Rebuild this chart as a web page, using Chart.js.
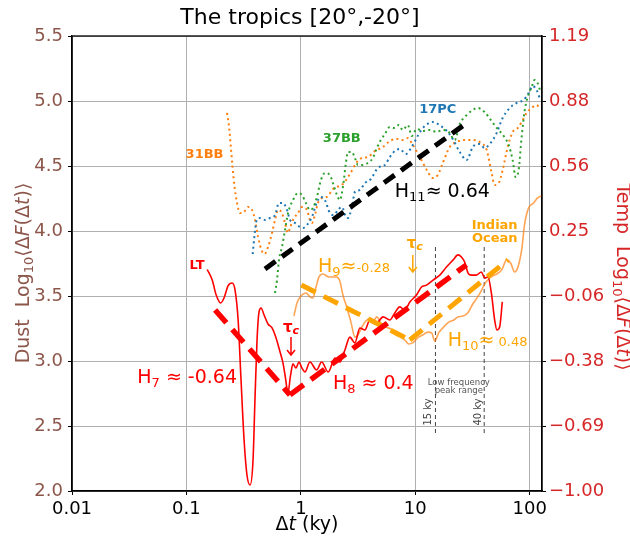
<!DOCTYPE html>
<html>
<head>
<meta charset="utf-8">
<script src="https://cdn.jsdelivr.net/npm/chart.js@4.4.1/dist/chart.umd.min.js"></script>
<style>
    html, body { margin: 0; padding: 0; background: #fff; }
    #wrap { width: 630px; height: 542px; }
</style>
</head>
<body>
<div id="wrap"><canvas id="tropicsChart" width="630" height="542"></canvas></div>
<script>
const FONT = 'DejaVu Sans';

// axis ticks
const xTickValues = [0.01, 0.1, 1, 10, 100];
const xTickLabels = ['0.01', '0.1', '1', '10', '100'];
const dustTicks = [2.0, 2.5, 3.0, 3.5, 4.0, 4.5, 5.0, 5.5];
const tempTicks = [-1.0, -0.6875, -0.375, -0.0625, 0.25, 0.5625, 0.875, 1.1875];

// LT temperature (right axis)
const ltDt = [0.152, 0.168, 0.182, 0.199, 0.213, 0.231, 0.251, 0.266, 0.283, 0.300, 0.319, 0.338, 0.360, 0.382, 0.397, 0.414, 0.431, 0.449, 0.477, 0.516, 0.560, 0.607, 0.658, 0.698, 0.734, 0.771, 0.811, 0.853, 0.906, 0.962, 1.022, 1.086, 1.20, 1.374, 1.519, 1.735, 1.985, 2.19, 2.427, 2.68, 2.965, 3.28, 3.625, 4.01, 4.58, 5.23, 5.99, 6.62, 7.32, 8.10, 8.96, 10.24, 11.32, 12.52, 14.30, 16.36, 18.72, 21.4, 23.6, 25.3, 27.0, 28.9, 30.9, 34.2, 37.8, 40.4, 43.2, 46.2, 49.4, 51.7, 54.6, 57.6];
const ltTemp = [0.065, 0.014, -0.058, -0.096, -0.072, -0.014, 0.0, -0.034, -0.178, -0.466, -0.755, -0.923, -0.971, -0.851, -0.563, -0.274, -0.139, -0.12, -0.154, -0.197, -0.216, -0.264, -0.332, -0.385, -0.457, -0.529, -0.447, -0.389, -0.409, -0.38, -0.409, -0.428, -0.38, -0.418, -0.38, -0.428, -0.361, -0.38, -0.322, -0.26, -0.288, -0.216, -0.226, -0.178, -0.192, -0.163, -0.178, -0.144, -0.115, -0.13, -0.091, -0.058, -0.019, -0.01, 0.014, 0.038, 0.077, 0.111, 0.135, 0.125, 0.101, 0.048, 0.038, 0.038, 0.053, 0.024, 0.029, -0.048, -0.178, -0.226, -0.212, -0.091];

// Indian Ocean temperature (right axis)
const indianDt = [0.87, 0.925, 1.0, 1.11, 1.20, 1.275, 1.35, 1.44, 1.56, 1.76, 2.03, 2.19, 2.33, 2.53, 2.74, 2.97, 3.15, 3.41, 3.70, 4.01, 4.34, 4.61, 5.00, 5.53, 6.11, 6.76, 7.47, 8.10, 8.78, 9.51, 10.5, 11.6, 12.9, 13.9, 14.8, 16.0, 17.7, 19.6, 21.7, 23.5, 26.0, 28.7, 31.8, 35.1, 38.0, 40.4, 43.8, 47.5, 51.4, 56.9, 62.9, 68.1, 73.8, 78.4, 85.0, 90.3, 97.8, 108.2, 117.2, 127.0];
const indianTemp = [-0.159, -0.096, -0.063, -0.048, -0.067, -0.072, -0.024, 0.029, 0.043, 0.029, 0.029, 0.010, -0.058, -0.12, -0.188, -0.26, -0.25, -0.212, -0.183, -0.168, -0.178, -0.163, -0.192, -0.212, -0.221, -0.25, -0.26, -0.274, -0.293, -0.288, -0.264, -0.25, -0.236, -0.24, -0.279, -0.24, -0.212, -0.188, -0.178, -0.163, -0.159, -0.144, -0.101, -0.067, -0.034, -0.005, 0.019, 0.034, 0.043, 0.063, 0.111, 0.096, 0.053, 0.072, 0.159, 0.284, 0.361, 0.385, 0.409, 0.418];

// dust records (left axis)
const bb31Dt = [0.2265, 0.2359, 0.2455, 0.2530, 0.2634, 0.2770, 0.2941, 0.3187, 0.3454, 0.3743, 0.3977, 0.4223, 0.4530, 0.4813, 0.5163, 0.5596, 0.5943, 0.6313, 0.6840, 0.7266, 0.7718, 0.8035, 0.8533, 0.9434, 1.022, 1.130, 1.200, 1.250, 1.327, 1.410, 1.528, 1.690, 1.906, 2.330, 2.682, 3.087, 3.414, 3.851, 4.433, 5.205, 5.991, 6.897, 7.781, 8.602, 9.51, 10.95, 12.60, 14.21, 15.72, 17.38, 20.01, 23.02, 27.04, 31.76, 36.54, 42.06, 46.51, 49.39, 53.53, 58.01, 64.15, 70.93, 78.45, 84.98, 93.96, 103.9, 114.9, 122.0];
const bb31Dust = [4.908, 4.80, 4.623, 4.492, 4.338, 4.215, 4.138, 4.146, 4.185, 4.162, 4.085, 3.954, 3.854, 3.823, 3.877, 3.985, 4.085, 4.162, 4.138, 4.062, 3.985, 4.023, 4.085, 4.138, 4.185, 4.162, 4.085, 4.062, 4.123, 4.215, 4.254, 4.262, 4.323, 4.362, 4.438, 4.531, 4.562, 4.569, 4.615, 4.646, 4.692, 4.708, 4.70, 4.715, 4.662, 4.569, 4.469, 4.408, 4.431, 4.523, 4.646, 4.685, 4.70, 4.70, 4.685, 4.623, 4.446, 4.354, 4.369, 4.469, 4.646, 4.762, 4.792, 4.838, 4.908, 4.946, 4.969, 4.946];

const pc17Dt = [0.3796, 0.3921, 0.4114, 0.4396, 0.4861, 0.5376, 0.5943, 0.6439, 0.6979, 0.7565, 0.8035, 0.8882, 0.9820, 1.043, 1.130, 1.250, 1.382, 1.497, 1.623, 1.794, 1.944, 2.107, 2.284, 2.475, 2.576, 2.792, 2.966, 3.280, 3.625, 4.090, 4.708, 5.420, 5.991, 6.624, 7.324, 8.262, 9.510, 10.73, 11.87, 14.21, 16.69, 19.21, 21.24, 24.45, 28.14, 31.76, 36.54, 40.42, 44.68, 50.41, 58.01, 66.78, 76.87, 88.47, 97.81, 106.0, 114.9, 122.0];
const pc17Dust = [3.823, 3.954, 4.085, 4.10, 4.085, 4.10, 4.123, 4.215, 4.215, 4.162, 4.085, 4.062, 4.031, 4.023, 4.046, 4.108, 4.223, 4.262, 4.238, 4.138, 4.123, 4.162, 4.185, 4.108, 4.10, 4.185, 4.30, 4.315, 4.369, 4.40, 4.485, 4.508, 4.569, 4.615, 4.631, 4.592, 4.662, 4.746, 4.80, 4.838, 4.808, 4.762, 4.708, 4.608, 4.546, 4.646, 4.669, 4.638, 4.669, 4.738, 4.869, 4.946, 4.985, 5.008, 5.062, 5.115, 5.085, 5.023];

const bb37Dt = [0.5943, 0.6186, 0.6439, 0.6840, 0.7266, 0.7718, 0.8533, 0.9434, 1.022, 1.108, 1.200, 1.275, 1.382, 1.497, 1.623, 1.794, 1.906, 2.065, 2.194, 2.330, 2.475, 2.576, 2.792, 2.966, 3.149, 3.483, 3.851, 4.257, 4.613, 5.000, 5.420, 5.991, 6.624, 7.178, 7.781, 8.602, 9.322, 10.31, 11.63, 13.38, 15.40, 17.38, 19.60, 22.12, 24.45, 28.14, 31.76, 35.12, 40.42, 45.59, 52.48, 59.21, 65.44, 70.93, 75.34, 80.01, 84.98, 90.27, 95.88, 103.9, 110.4, 117.2, 124.5];
const bb37Dust = [3.523, 3.623, 3.777, 3.877, 4.008, 4.138, 4.238, 4.292, 4.277, 4.215, 4.162, 4.177, 4.262, 4.392, 4.446, 4.431, 4.369, 4.277, 4.238, 4.338, 4.523, 4.608, 4.608, 4.562, 4.508, 4.508, 4.523, 4.562, 4.638, 4.70, 4.746, 4.80, 4.792, 4.815, 4.777, 4.815, 4.731, 4.785, 4.769, 4.777, 4.762, 4.777, 4.762, 4.70, 4.823, 4.892, 4.931, 4.946, 4.915, 4.854, 4.785, 4.731, 4.662, 4.546, 4.415, 4.469, 4.723, 4.923, 5.031, 5.108, 5.162, 5.138, 5.069];

// fitted scaling lines: [start, end]
const h7Dt = [0.178, 0.803], h7Temp = [-0.130, -0.538];
const h8Dt = [0.803, 28.0], h8Temp = [-0.538, 0.087];
const h9Dt = [1.01, 8.96], h9Temp = [-0.010, -0.274];
const h10Dt = [8.96, 64.5], h10Temp = [-0.274, 0.111];
const h11Dt = [0.486, 28.1], h11Dust = [3.708, 4.831];

// low frequency peak range markers
const peakRangeDt = [15, 40];
const peakRangeSpan = [2.446, 3.892];

Chart.defaults.font.family = FONT;

function series(xs, ys) {
    return xs.map((x, i) => ({ x: x, y: ys[i] }));
}

function curve(label, xs, ys, color, axis, width, dash) {
    return {
        label: label,
        data: series(xs, ys),
        yAxisID: axis,
        borderColor: color,
        borderWidth: width,
        borderDash: dash || [],
        pointRadius: 0,
        fill: false,
        cubicInterpolationMode: 'monotone'
    };
}

function fitLine(label, xs, ys, color, axis, width, dash) {
    const d = curve(label, xs, ys, color, axis, width, dash);
    d.cubicInterpolationMode = 'default';
    d.tension = 0;
    return d;
}

function runFont(r) {
    return (r.italic ? 'italic ' : '') + (r.bold ? 'bold ' : '') + r.size + 'px "' + FONT + '"';
}

function drawRuns(ctx, runs, x, y, align) {
    let total = 0;
    runs.forEach(r => {
        ctx.font = runFont(r);
        r.w = ctx.measureText(r.text).width;
        total += r.w;
    });
    let cx = align === 'center' ? x - total / 2 : x;
    ctx.textAlign = 'left';
    runs.forEach(r => {
        ctx.font = runFont(r);
        ctx.fillText(r.text, cx, y + (r.dy || 0));
        cx += r.w;
    });
}

function arrowDown(ctx, x, y0, y1, color) {
    ctx.strokeStyle = color;
    ctx.lineWidth = 1.5;
    ctx.beginPath();
    ctx.moveTo(x, y0);
    ctx.lineTo(x, y1);
    ctx.moveTo(x - 4, y1 - 5);
    ctx.lineTo(x, y1);
    ctx.lineTo(x + 4, y1 - 5);
    ctx.stroke();
}

const decorations = {
    id: 'decorations',
    afterDatasetsDraw(chart) {
        const { ctx, chartArea: a, scales } = chart;
        const X = v => scales.x.getPixelForValue(v);
        const Y = v => scales.y.getPixelForValue(v);
        ctx.save();

        // frame
        ctx.strokeStyle = '#000';
        ctx.lineWidth = 1.3;
        ctx.strokeRect(a.left, a.top, a.right - a.left, a.bottom - a.top);

        ctx.textBaseline = 'alphabetic';

        // record names
        ctx.fillStyle = '#ff7f0e';
        drawRuns(ctx, [{ text: '31BB', size: 13, bold: true }], X(0.144), Y(4.562), 'center');
        ctx.fillStyle = '#2ca02c';
        drawRuns(ctx, [{ text: '37BB', size: 13, bold: true }], X(2.28), Y(4.685), 'center');
        ctx.fillStyle = '#1f77b4';
        drawRuns(ctx, [{ text: '17PC', size: 13, bold: true }], X(15.7), Y(4.908), 'center');
        ctx.fillStyle = '#ff0000';
        drawRuns(ctx, [{ text: 'LT', size: 13, bold: true }], X(0.124), Y(3.708), 'center');
        ctx.fillStyle = '#ffa500';
        drawRuns(ctx, [{ text: 'Indian', size: 13, bold: true }], X(49.4), Y(4.015), 'center');
        drawRuns(ctx, [{ text: 'Ocean', size: 13, bold: true }], X(49.4), Y(3.915), 'center');

        // exponents
        ctx.fillStyle = '#000';
        drawRuns(ctx, [
            { text: 'H', size: 19 }, { text: '11', size: 13, dy: 4 },
            { text: '\u2248 0.64', size: 19 }
        ], X(6.62), Y(4.262), 'left');
        ctx.fillStyle = '#ff0000';
        drawRuns(ctx, [
            { text: 'H', size: 19 }, { text: '7', size: 13, dy: 4 },
            { text: ' \u2248 -0.64', size: 19 }
        ], X(0.0372), Y(2.831), 'left');
        drawRuns(ctx, [
            { text: 'H', size: 19 }, { text: '8', size: 13, dy: 4 },
            { text: ' \u2248 0.4', size: 19 }
        ], X(1.905), Y(2.785), 'left');
        ctx.fillStyle = '#ffa500';
        drawRuns(ctx, [
            { text: 'H', size: 19 }, { text: '9', size: 13, dy: 4 },
            { text: '\u2248', size: 19 }, { text: '-0.28', size: 13 }
        ], X(1.41), Y(3.685), 'left');
        drawRuns(ctx, [
            { text: 'H', size: 19 }, { text: '10', size: 13, dy: 4 },
            { text: '\u2248', size: 19 }, { text: ' 0.48', size: 13 }
        ], X(19.2), Y(3.115), 'left');

        // crossover times
        ctx.fillStyle = '#ff0000';
        drawRuns(ctx, [{ text: '\u03c4', size: 15, bold: true }, { text: 'c', size: 11, bold: true, italic: true, dy: 2 }],
            X(0.82), Y(3.223), 'center');
        arrowDown(ctx, X(0.82), Y(3.185), Y(3.046), '#ff0000');
        ctx.fillStyle = '#ffa500';
        drawRuns(ctx, [{ text: '\u03c4', size: 15, bold: true }, { text: 'c', size: 11, bold: true, italic: true, dy: 2 }],
            X(9.9), Y(3.869), 'center');
        arrowDown(ctx, X(9.51), Y(3.815), Y(3.685), '#ffa500');

        // peak range labels
        ctx.fillStyle = '#555';
        drawRuns(ctx, [{ text: 'Low frequency', size: 8.5 }], X(24), Y(2.815), 'center');
        drawRuns(ctx, [{ text: 'peak range', size: 8.5 }], X(24), Y(2.754), 'center');
        ctx.fillStyle = '#444';
        [[13.65, '15 ky'], [37.3, '40 ky']].forEach(([v, t]) => {
            ctx.save();
            ctx.translate(X(v), Y(2.608));
            ctx.rotate(-Math.PI / 2);
            drawRuns(ctx, [{ text: t, size: 10 }], 0, 0, 'center');
            ctx.restore();
        });
        ctx.restore();
    },
    afterDraw(chart) {
        const { ctx } = chart;
        ctx.save();
        ctx.textBaseline = 'alphabetic';
        ctx.fillStyle = '#000';
        // title
        drawRuns(ctx, [{ text: 'The tropics [20\u00b0,-20\u00b0]', size: 22 }], 300, 24, 'center');
        // x title
        drawRuns(ctx, [{ text: '\u0394', size: 19 }, { text: 't', size: 19, italic: true }, { text: ' (ky)', size: 19 }],
            307, 530, 'center');
        // y titles
        const axisRuns = name => [
            { text: name + '  Log', size: 19 }, { text: '10', size: 13, dy: 4 },
            { text: '\u27e8\u0394', size: 19 }, { text: 'F', size: 19, italic: true },
            { text: '(\u0394', size: 19 }, { text: 't', size: 19, italic: true }, { text: ')\u27e9', size: 19 }
        ];
        ctx.fillStyle = '#8c564b';
        ctx.save();
        ctx.translate(29, 273);
        ctx.rotate(-Math.PI / 2);
        drawRuns(ctx, axisRuns('Dust'), 0, 0, 'center');
        ctx.restore();
        ctx.fillStyle = '#d62728';
        ctx.save();
        ctx.translate(617, 277);
        ctx.rotate(Math.PI / 2);
        drawRuns(ctx, axisRuns('Temp'), 0, 0, 'center');
        ctx.restore();
        ctx.restore();
    }
};

const gridStyle = { color: '#b0b0b0', lineWidth: 1, tickColor: '#000', tickLength: 4 };
const tickFont = { family: FONT, size: 18 };

new Chart(document.getElementById('tropicsChart').getContext('2d'), {
    type: 'line',
    data: {
        datasets: [
            fitLine('H7', h7Dt, h7Temp, '#ff0000', 'y2', 5.5, [17, 9]),
            fitLine('H8', h8Dt, h8Temp, '#ff0000', 'y2', 5.5, [17, 9]),
            fitLine('H9', h9Dt, h9Temp, '#ffa500', 'y2', 5, [16, 9]),
            fitLine('H10', h10Dt, h10Temp, '#ffa500', 'y2', 5, [16, 9]),
            fitLine('H11', h11Dt, h11Dust, '#000000', 'y', 5, [13, 8]),
            curve('LT', ltDt, ltTemp, '#ff0000', 'y2', 1.6),
            curve('Indian Ocean', indianDt, indianTemp, 'rgba(255,127,14,0.7)', 'y2', 1.6),
            curve('37BB', bb37Dt, bb37Dust, '#2ca02c', 'y', 2, [2, 3.3]),
            curve('17PC', pc17Dt, pc17Dust, '#1f77b4', 'y', 2, [2, 3.3]),
            curve('31BB', bb31Dt, bb31Dust, '#ff7f0e', 'y', 2, [2, 3.3]),
            fitLine('15 ky', [peakRangeDt[0], peakRangeDt[0]], peakRangeSpan, '#444', 'y', 1, [4, 3]),
            fitLine('40 ky', [peakRangeDt[1], peakRangeDt[1]], peakRangeSpan, '#444', 'y', 1, [4, 3])
        ]
    },
    options: {
        responsive: false,
        animation: false,
        devicePixelRatio: 1,
        layout: { padding: { top: 36 } },
        plugins: {
            legend: { display: false },
            tooltip: { enabled: false },
            title: { display: false }
        },
        scales: {
            x: {
                type: 'logarithmic',
                position: 'bottom',
                min: 0.01,
                max: 128,
                afterBuildTicks: s => { s.ticks = xTickValues.map(v => ({ value: v })); },
                afterFit: s => { s.height = 51; },
                ticks: {
                    autoSkip: false, maxRotation: 0, color: '#000', padding: 4, font: tickFont,
                    callback: (v, i) => xTickLabels[i]
                },
                grid: gridStyle,
                border: { color: '#000', width: 1.3 }
            },
            y: {
                type: 'linear',
                position: 'left',
                min: 2,
                max: 5.5,
                afterBuildTicks: s => { s.ticks = dustTicks.map(v => ({ value: v })); },
                afterFit: s => { s.width = 72; },
                ticks: { color: '#8c564b', padding: 5, font: tickFont, callback: v => v.toFixed(1) },
                grid: gridStyle,
                border: { color: '#000', width: 1.3 }
            },
            y2: {
                type: 'linear',
                position: 'right',
                min: -1,
                max: 1.1875,
                afterBuildTicks: s => { s.ticks = tempTicks.map(v => ({ value: v })); },
                afterFit: s => { s.width = 88; },
                ticks: {
                    color: '#d62728', padding: 3, font: tickFont,
                    callback: v => v.toFixed(2).replace('-', '\u2212')
                },
                grid: { drawOnChartArea: false, tickColor: '#000', tickLength: 4 },
                border: { color: '#000', width: 1.3 }
            }
        }
    },
    plugins: [decorations]
});
</script>
</body>
</html>
